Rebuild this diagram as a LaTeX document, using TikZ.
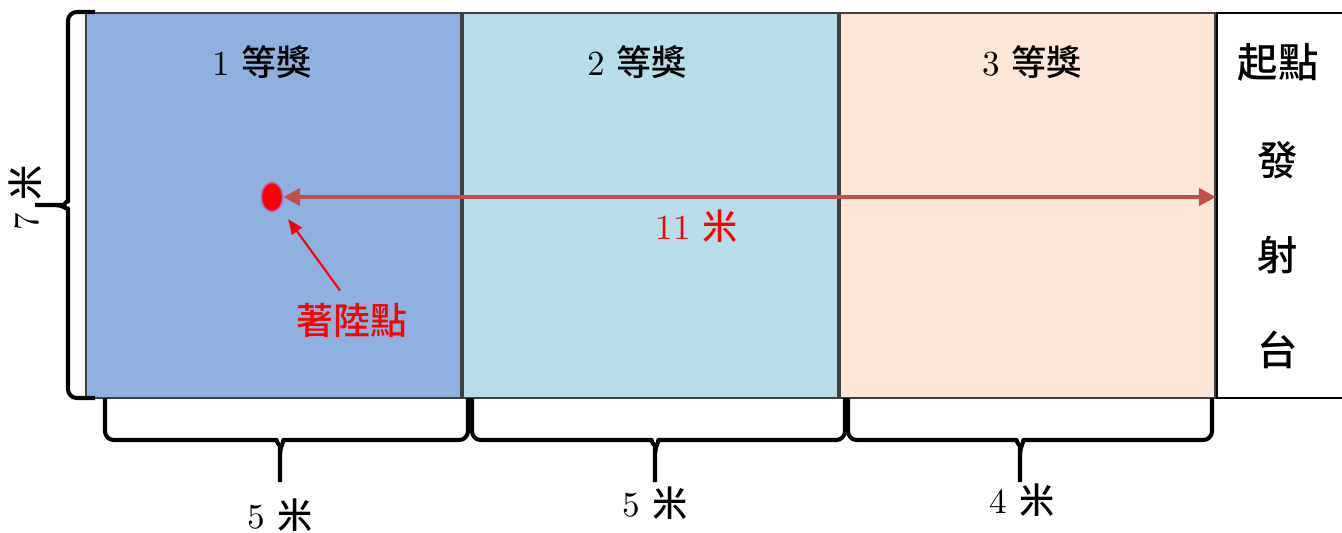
\documentclass[tikz,border=0pt]{standalone}
\usepackage{fontspec}
\usepackage{tikz}
\usetikzlibrary{arrows.meta,positioning,shapes.geometric}
\newfontfamily\cjk{Noto Sans CJK TC Medium}
\definecolor{prizeblue}{HTML}{8EB1E0}
\definecolor{prizecyan}{HTML}{B7DDE8}
\definecolor{prizepeach}{HTML}{FCE6D7}
\definecolor{flightred}{HTML}{C0504D}

\begin{document}
\begin{tikzpicture}[
			x=0.01cm,y=-0.01cm,
			every node/.style={font=\fontsize{10}{12}\selectfont,align=center},
			zone/.style={draw=black!75,line width=0.5pt,minimum width=3.75cm,minimum height=3.85cm,inner sep=0pt,anchor=north west},
			pad/.style={draw=black,line width=0.7pt,fill=white,minimum width=1.31cm,minimum height=3.85cm,inner sep=0pt},
			padtext/.style={font=\fontsize{11.5}{13}\selectfont\cjk},
			dot/.style={ellipse,fill=red,draw=violet!60,minimum width=0.21cm,minimum height=0.29cm,inner sep=0pt},
			flight/.style={{Triangle[length=0.17cm,width=0.17cm]}-{Triangle[length=0.17cm,width=0.17cm]},line width=1.4pt,draw=flightred},
			pointer/.style={-{Triangle[length=0.15cm,width=0.12cm]},line width=0.6pt,draw=red,shorten >=4pt},
			brc/.style={line width=1.15pt,draw=black,rounded corners=2.5pt,line join=round}
			]
			\useasboundingbox (0,0) rectangle (1342,532);
			\node[zone,fill=prizeblue] (z1) at (85,12) {};
			\node[zone,fill=prizecyan,right=0pt of z1] (z2) {};
			\node[zone,fill=prizepeach,right=0pt of z2] (z3) {};
			\node[pad,right=0pt of z3] (pad) {};
			\node (p1) at (262,62) {1 {\cjk 等獎}};
			\node (p2) at (637,62) {2 {\cjk 等獎}};
			\node (p3) at (1032,62) {3 {\cjk 等獎}};
			\foreach \t/\y [count=\i] in {起點/62,發/160,射/255,台/350}
				\node[padtext] (pt\i) at (1278,\y) {\t};
			\node[dot] (land) at (272,197) {};
			\draw[flight] (land.east) -- (land.east -| pad.west);
			\node[text=red] (dist) at (697,226) {11 {\cjk 米}};
			\node[text=red,font=\fontsize{10.5}{12}\selectfont\cjk] (mark) at (352,320) {著陸點};
			\draw[pointer] ([xshift=-0.12cm]mark.north) -- (land);
			% left brace
			\coordinate (ltop) at (95,12);
			\coordinate (lbot) at (95,398);
			\coordinate (ltip) at (35,205);
			\draw[brc] (ltop) -- (68,12) -- (68,193) to[out=-90,in=0] (56,205) -- (ltip);
			\draw[brc] (lbot) -- (68,398) -- (68,217) to[out=90,in=0] (56,205);
			\node[rotate=90] (height) at (25,198) {7 {\cjk 米}};
			% bottom braces
			\foreach \l/\r/\m/\n in {105/468/280/b1,472/845/655/b2,848/1212/1020/b3}{
				\coordinate (\n l) at (\l,398);
				\coordinate (\n r) at (\r,398);
				\coordinate (\n tip) at (\m,482);
				\draw[brc] (\n l) -- (\l,440) -- (\m-12,440) to[out=0,in=90] (\m,454) -- (\n tip);
				\draw[brc] (\n r) -- (\r,440) -- (\m+12,440) to[out=180,in=90] (\m,454);
			}
			\node (w1) at (280,515) {5 {\cjk 米}};
			\node (w2) at (655,503) {5 {\cjk 米}};
			\node (w3) at (1022,500) {4 {\cjk 米}};
		\end{tikzpicture}
\end{document}
